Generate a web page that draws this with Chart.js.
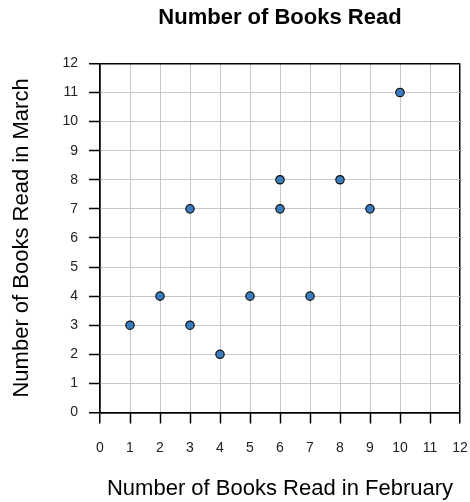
<!DOCTYPE html>
<html>
<head>
<meta charset="utf-8">
<script src="https://cdn.jsdelivr.net/npm/chart.js@4/dist/chart.umd.min.js"></script>
<style>
    html, body { margin: 0; padding: 0; background: #fff; }
    canvas { display: block; }
</style>
</head>
<body>
<canvas id="grafica" width="470" height="502"></canvas>
<script>
var febrero = [1, 2, 3, 3, 4, 5, 6, 6, 7, 8, 9, 10];
var marzo = [3, 4, 3, 7, 2, 4, 7, 8, 4, 8, 7, 11];
var ejeMin = 0;
var ejeMax = 12;

var FUENTE = "'Liberation Sans', Arial, sans-serif";

var puntos = febrero.map(function (x, i) {
    return {x: x, y: marzo[i]};
});

// Las líneas de los extremos cierran el marco en negro.
function colorRejilla(ctx) {
    if (ctx.tick && (ctx.tick.value === ejeMin || ctx.tick.value === ejeMax)) {
        return '#000';
    }
    return '#c8c8c8';
}

function anchoRejilla(ctx) {
    if (ctx.tick && (ctx.tick.value === ejeMin || ctx.tick.value === ejeMax)) {
        return 1.5;
    }
    return 1;
}

new Chart(document.getElementById('grafica'), {
    type: 'scatter',
    data: {
        datasets: [{
            data: puntos,
            backgroundColor: '#3b7cbd',
            borderColor: '#111',
            borderWidth: 1.2,
            pointRadius: 4.2,
        }],
    },
    options: {
        responsive: false,
        devicePixelRatio: 1,
        animation: false,
        layout: {padding: {top: 0, right: 10, bottom: 0, left: 0}},
        plugins: {
            legend: {display: false},
            tooltip: {enabled: false},
            title: {
                display: true,
                text: 'Number of Books Read',
                fullSize: false,
                color: '#000',
                font: {family: FUENTE, size: 22, weight: 'bold'},
                padding: {top: 5, bottom: 32},
            },
        },
        scales: {
            x: {
                type: 'linear',
                min: ejeMin,
                max: ejeMax,
                afterFit: function (s) {
                    s.height = 89.5;
                    s.paddingLeft = 0;
                    s.paddingRight = 0;
                },
                ticks: {stepSize: 1, color: '#222', padding: 16, font: {family: FUENTE, size: 14}},
                grid: {color: colorRejilla, lineWidth: anchoRejilla, tickColor: '#000', tickWidth: 1.5, tickLength: 11},
                border: {color: '#000', width: 1.5},
                title: {
                    display: true,
                    text: 'Number of Books Read in February',
                    color: '#000',
                    font: {family: FUENTE, size: 22},
                    padding: {top: 0, bottom: 0},
                },
            },
            y: {
                type: 'linear',
                min: ejeMin,
                max: ejeMax,
                afterFit: function (s) { s.width = 100; },
                ticks: {stepSize: 1, color: '#222', padding: 11, font: {family: FUENTE, size: 14}},
                grid: {color: colorRejilla, lineWidth: anchoRejilla, tickColor: '#000', tickWidth: 1.5, tickLength: 11},
                border: {color: '#000', width: 1.5},
                title: {
                    display: true,
                    text: 'Number of Books Read in March',
                    color: '#000',
                    font: {family: FUENTE, size: 22},
                    padding: {top: 9, bottom: 0},
                },
            },
        },
    },
});
</script>
</body>
</html>
